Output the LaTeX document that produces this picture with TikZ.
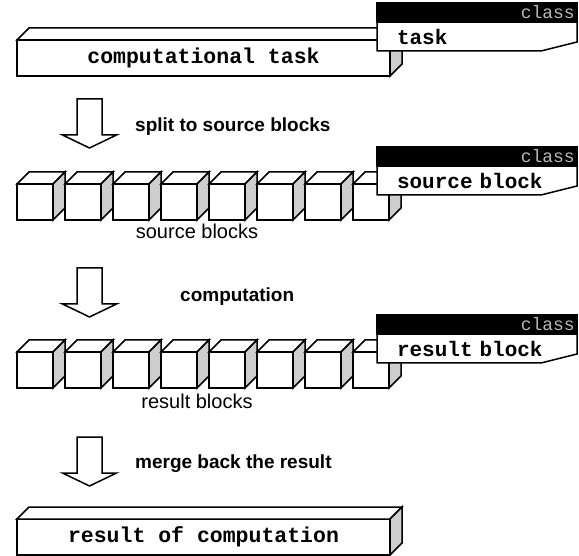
\documentclass[tikz,border=0pt]{standalone}
\usepackage{fontspec}
\usetikzlibrary{calc}
\newfontfamily\codefont{Liberation Mono}
\newfontfamily\labelfont{Liberation Sans}
\definecolor{sidegray}{RGB}{206,206,206}
\definecolor{taggray}{RGB}{185,185,185}
\tikzset{
    face/.style = {draw=black, line width=1.5pt, line join=miter, outer sep=0pt},
    side-face/.style = {face, fill=sidegray},
    front-face/.style = {face, fill=white, inner sep=0pt, anchor=north west},
    bar/.style = {front-face, minimum width=373pt, minimum height=36pt, font=\codefont\bfseries\fontsize{21.5}{24}\selectfont},
    cube/.style = {front-face, minimum width=36pt, minimum height=36pt},
    class-head/.style = {face, fill=black, minimum width=200pt, minimum height=19pt, inner sep=0pt, anchor=south west},
    class-tag/.style = {text=taggray, font=\codefont\fontsize{18}{20}\selectfont, anchor=east, inner xsep=2pt, inner ysep=0pt},
    class-body/.style = {fill=white, outer sep=0pt, inner xsep=20pt, inner ysep=0pt, text width=160pt, minimum height=29pt, align=left, anchor=north west, font=\codefont\bfseries\fontsize{21}{24}\selectfont},
    step-label/.style = {font=\labelfont\bfseries\fontsize{19}{22}\selectfont, anchor=base west, inner sep=0pt},
    row-label/.style = {font=\labelfont\fontsize{20}{24}\selectfont, anchor=base, inner sep=0pt},
    pics/block-arrow/.style = {code={
        \draw[face, fill=white] (-12.5,0) -- (12.5,0) -- (12.5,36) -- (27,36) -- (0,49) -- (-27,36) -- (-12.5,36) -- cycle;
    }},
}
% top and side faces of a solid drawn behind a front node
\newcommand{\solidfaces}[1]{%
    \draw[face, fill=white] (#1.north west) -- ++(12,-12) -- ($(#1.north east)+(12,-12)$) -- (#1.north east) -- cycle;
    \draw[side-face] (#1.north east) -- ++(12,-12) -- ($(#1.south east)+(12,-12)$) -- (#1.south east) -- cycle;
}
% class box with black head and cut corner
\newcommand{\classbox}[3]{%
    \node[class-body] (#1) at (377,#2) {#3};
    \draw[face] (#1.north west) -- (#1.north east) -- ($(#1.south east)+(0,-9)$) -- ($(#1.south east)+(-36,0)$) -- (#1.south west) -- cycle;
    \node[class-head] (#1-head) at (#1.north west) {};
    \node[class-tag] at (#1-head.east) {class};
}
\begin{document}
\begin{tikzpicture}[x=1pt, y=-1pt]
\useasboundingbox (0,0) rectangle (579,556);

% the task
\node[bar] (task) at (17,40) {computational task};
\solidfaces{task}
\classbox{task-class}{22}{task}

\pic at (89.5,99) {block-arrow};
\node[step-label] (split) at (135,132) {split to source blocks};

% source blocks
\foreach \i in {0,...,7} {
    \node[cube] (src-\i) at (17+48*\i,184) {};
    \solidfaces{src-\i}
}
\classbox{src-class}{166}{source block}
\node[row-label] (src-label) at (197,239) {source blocks};

\pic at (89.5,268) {block-arrow};
\node[step-label] (compute) at (180,302) {computation};

% result blocks
\foreach \i in {0,...,7} {
    \node[cube] (res-\i) at (17+48*\i,352) {};
    \solidfaces{res-\i}
}
\classbox{res-class}{334}{result block}
\node[row-label] (res-label) at (197,408) {result blocks};

\pic at (89.5,437) {block-arrow};
\node[step-label] (merge) at (135,468) {merge back the result};

% the result
\node[bar] (result) at (17,519) {result of computation};
\solidfaces{result}
\end{tikzpicture}
\end{document}
